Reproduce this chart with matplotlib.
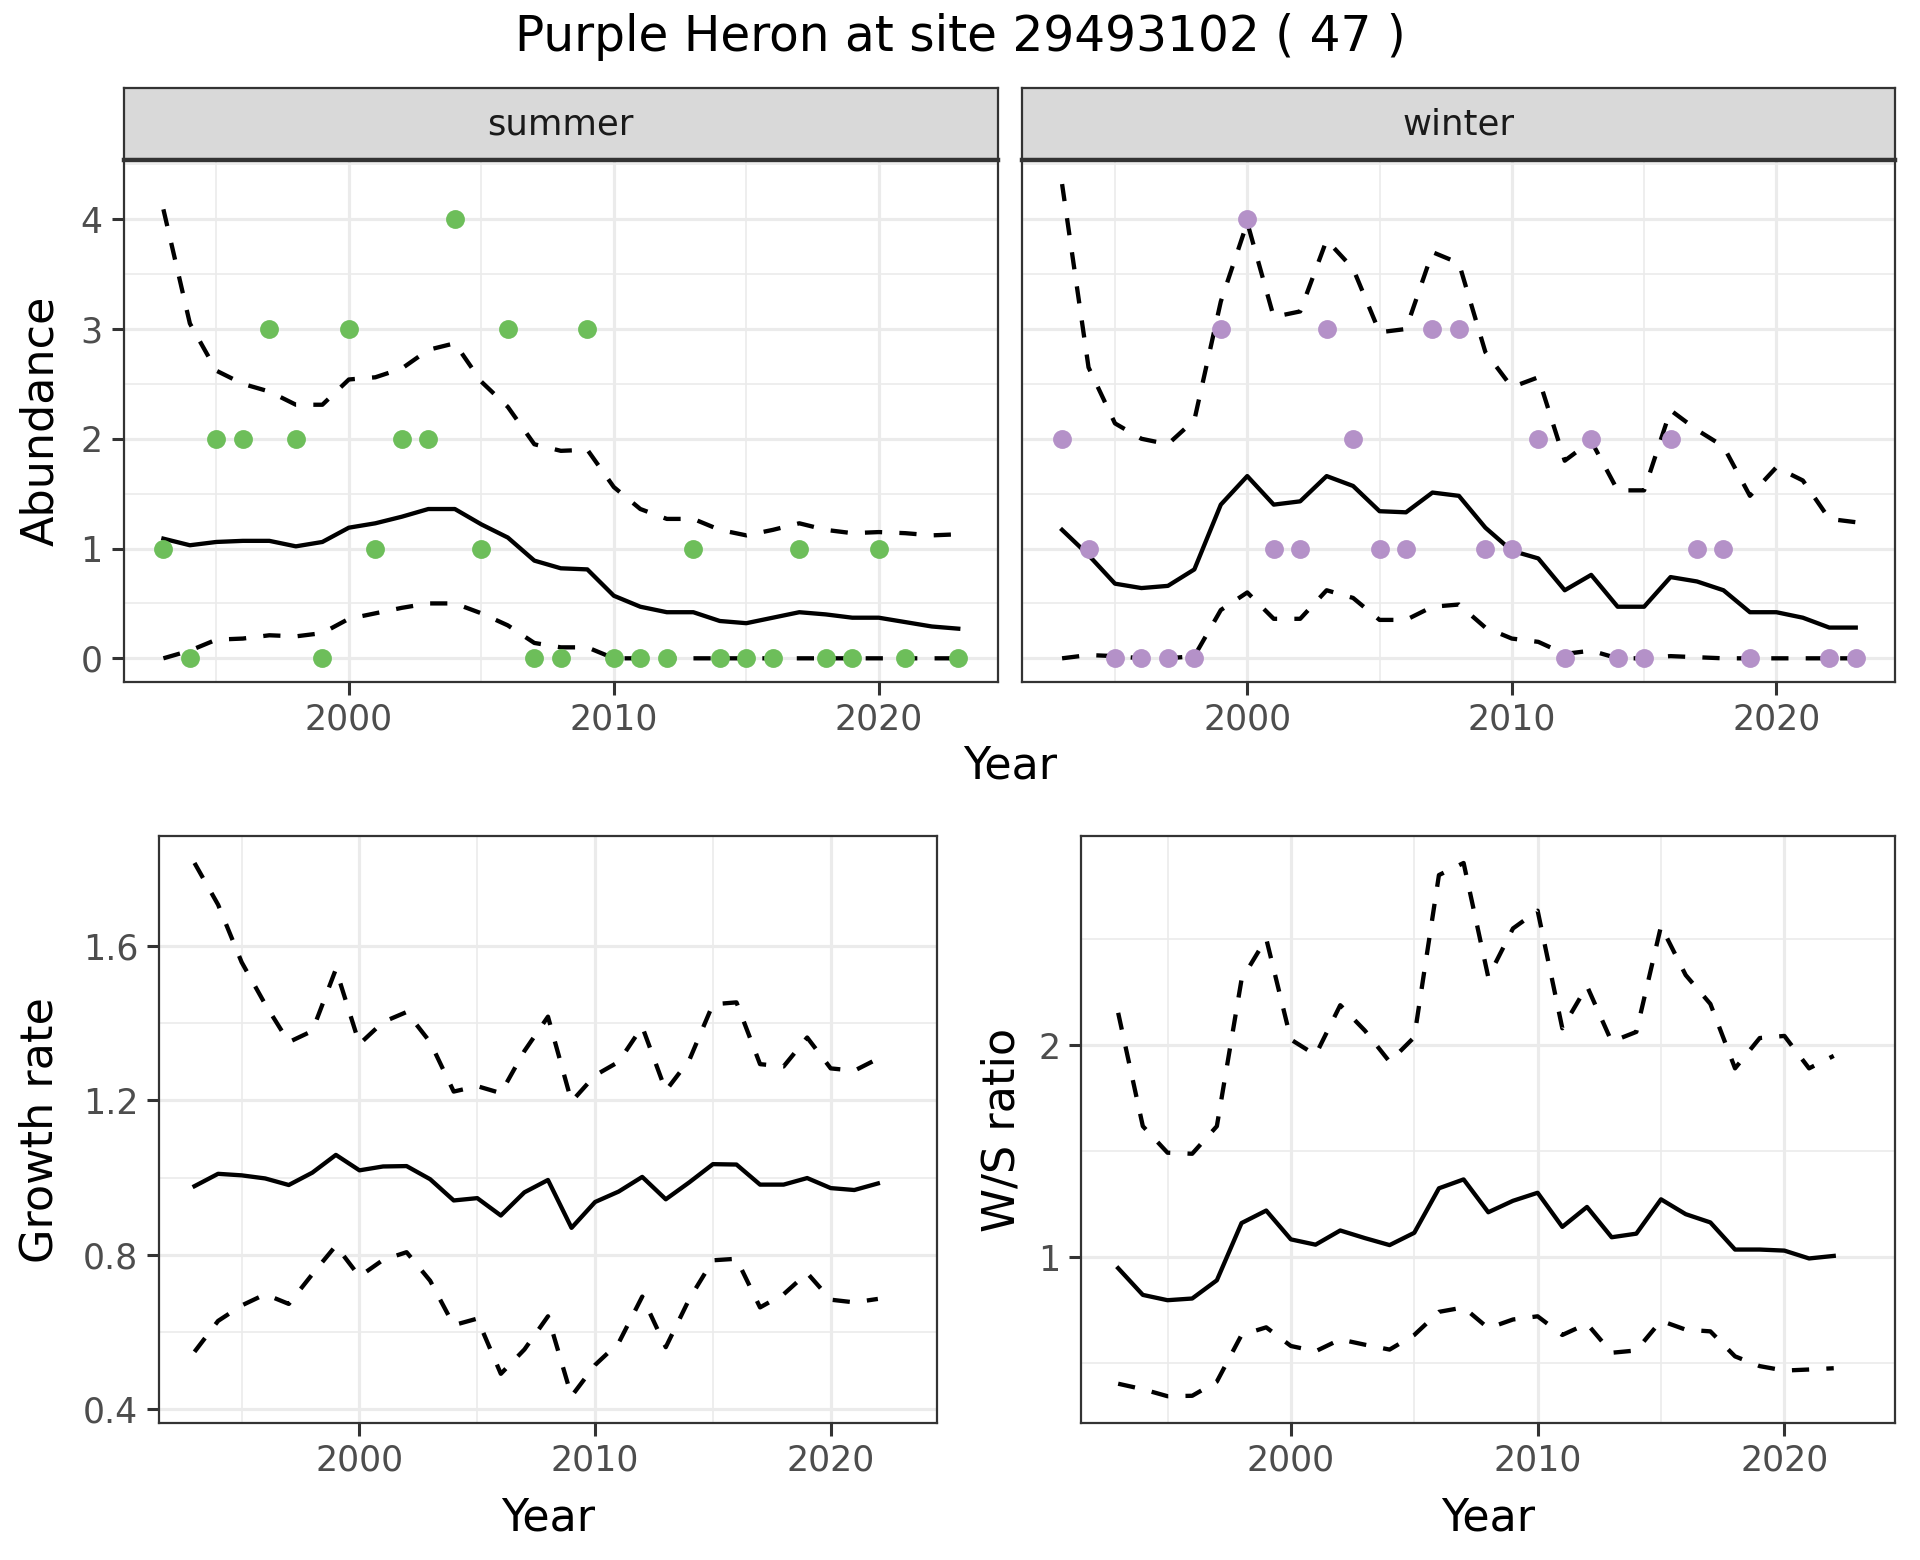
import numpy as np
import matplotlib
matplotlib.use("Agg")
import matplotlib.pyplot as plt

# Datos
years = list(range(1993, 2024))

summer_obs = [1, 0, 2, 2, 3, 2, 0, 3, 1, 2, 2, 4, 1, 3, 0, 0, 3, 0, 0, 0,
              1, 0, 0, 0, 1, 0, 0, 1, 0, None, 0]
summer_mean = [1.09, 1.03, 1.06, 1.07, 1.07, 1.02, 1.06, 1.19, 1.23, 1.29, 1.36,
               1.36, 1.22, 1.10, 0.89, 0.82, 0.81, 0.57, 0.47, 0.42, 0.42, 0.34,
               0.32, 0.37, 0.42, 0.40, 0.37, 0.37, 0.33, 0.29, 0.27]
summer_upper = [4.09, 3.05, 2.62, 2.50, 2.43, 2.31, 2.31, 2.54, 2.56, 2.64, 2.81,
                2.87, 2.52, 2.29, 1.95, 1.89, 1.90, 1.56, 1.36, 1.27, 1.27, 1.17,
                1.12, 1.17, 1.23, 1.17, 1.14, 1.15, 1.14, 1.12, 1.13]
summer_lower = [0.00, 0.07, 0.17, 0.18, 0.21, 0.20, 0.23, 0.36, 0.41, 0.46, 0.50,
                0.50, 0.41, 0.30, 0.14, 0.10, 0.10, 0.00, 0.00, 0.00, 0.00, 0.00,
                0.00, 0.00, 0.00, 0.00, 0.00, 0.00, 0.00, 0.00, 0.00]

winter_obs = [2, 1, 0, 0, 0, 0, 3, 4, 1, 1, 3, 2, 1, 1, 3, 3, 1, 1, 2, 0,
              2, 0, 0, 2, 1, 1, 0, None, None, 0, 0]
winter_mean = [1.17, 0.94, 0.68, 0.64, 0.66, 0.81, 1.40, 1.66, 1.40, 1.43, 1.66,
               1.57, 1.34, 1.33, 1.51, 1.48, 1.19, 0.98, 0.91, 0.62, 0.76, 0.47,
               0.47, 0.74, 0.70, 0.62, 0.42, 0.42, 0.37, 0.28, 0.28]
winter_upper = [4.32, 2.65, 2.14, 2.00, 1.95, 2.17, 3.25, 3.97, 3.11, 3.16, 3.81,
                3.55, 2.97, 3.00, 3.70, 3.60, 2.79, 2.47, 2.56, 1.80, 1.98, 1.53,
                1.53, 2.26, 2.08, 1.93, 1.48, 1.74, 1.62, 1.27, 1.24]
winter_lower = [0.00, 0.03, 0.02, 0.00, 0.00, 0.02, 0.44, 0.60, 0.36, 0.36, 0.62,
                0.55, 0.35, 0.35, 0.47, 0.49, 0.28, 0.18, 0.15, 0.04, 0.07, 0.00,
                0.00, 0.02, 0.01, 0.00, 0.00, 0.00, 0.00, 0.00, 0.00]

years_rate = list(range(1993, 2023))
growth_mean = [0.978, 1.010, 1.006, 0.998, 0.981, 1.013, 1.059, 1.019, 1.029, 1.030,
               0.996, 0.941, 0.947, 0.902, 0.962, 0.994, 0.870, 0.937, 0.964, 1.002,
               0.944, 0.988, 1.035, 1.034, 0.982, 0.982, 0.999, 0.973, 0.968, 0.985]
growth_upper = [1.815, 1.707, 1.558, 1.449, 1.351, 1.380, 1.540, 1.346, 1.403, 1.429,
                1.351, 1.223, 1.237, 1.219, 1.328, 1.417, 1.197, 1.265, 1.300, 1.391,
                1.225, 1.305, 1.449, 1.454, 1.294, 1.288, 1.363, 1.283, 1.277, 1.308]
growth_lower = [0.549, 0.629, 0.669, 0.698, 0.673, 0.750, 0.824, 0.744, 0.787, 0.807,
                0.733, 0.618, 0.635, 0.492, 0.555, 0.641, 0.434, 0.515, 0.572, 0.692,
                0.561, 0.686, 0.786, 0.790, 0.664, 0.698, 0.753, 0.684, 0.677, 0.686]

ws_mean = [0.948, 0.822, 0.797, 0.805, 0.891, 1.161, 1.220, 1.084, 1.059, 1.126,
           1.090, 1.057, 1.115, 1.325, 1.367, 1.212, 1.266, 1.304, 1.143, 1.237,
           1.094, 1.111, 1.273, 1.203, 1.164, 1.036, 1.036, 1.031, 0.994, 1.006]
ws_upper = [2.153, 1.618, 1.493, 1.488, 1.618, 2.310, 2.503, 2.027, 1.954, 2.189,
            2.069, 1.922, 2.038, 2.803, 2.860, 2.321, 2.551, 2.635, 2.080, 2.279,
            2.017, 2.063, 2.562, 2.331, 2.195, 1.891, 2.034, 2.044, 1.891, 1.950]
ws_lower = [0.403, 0.377, 0.344, 0.346, 0.413, 0.633, 0.669, 0.581, 0.556, 0.612,
            0.587, 0.564, 0.633, 0.742, 0.763, 0.665, 0.706, 0.721, 0.633, 0.686,
            0.549, 0.560, 0.700, 0.658, 0.650, 0.532, 0.486, 0.465, 0.470, 0.476]

green = "#6DBE5A"
purple = "#B491C8"
grid_col = "#EBEBEB"
dark = "#333333"

fig = plt.figure(figsize=(9.6, 7.8), dpi=200)


def style_axes(ax, ymaj, ymin, show_y=True):
    ax.set_xlim(1991.5, 2024.5)
    ax.set_xticks([2000, 2010, 2020])
    ax.set_xticks([1995, 2005, 2015], minor=True)
    ax.set_yticks(ymaj)
    ax.set_yticks(ymin, minor=True)
    ax.grid(True, which="major", color=grid_col, linewidth=1.15)
    ax.grid(True, which="minor", color=grid_col, linewidth=0.6)
    ax.set_axisbelow(True)
    for s in ax.spines.values():
        s.set_color(dark)
        s.set_linewidth(0.8)
    ax.tick_params(which="major", length=4.5, width=1.1, color=dark,
                   labelsize=12.5, labelcolor="#4D4D4D", pad=3)
    ax.tick_params(which="minor", length=0)
    if not show_y:
        ax.tick_params(axis="y", which="both", length=0, labelleft=False)


def band(ax, x, mid, lo, hi):
    ax.plot(x, mid, color="black", linewidth=1.55)
    ax.plot(x, hi, color="black", linewidth=1.55, linestyle=(0, (4, 4)))
    ax.plot(x, lo, color="black", linewidth=1.55, linestyle=(0, (4, 4)))


# limites compartidos de las facetas
ab_all = summer_upper + winter_upper + summer_lower + winter_lower
ab_lo, ab_hi = min(ab_all), max(ab_all)
ab_pad = (ab_hi - ab_lo) * 0.05

panels = [("summer", 0.0644, 0.4554, summer_obs, summer_mean, summer_lower, summer_upper, green),
          ("winter", 0.5325, 0.4547, winter_obs, winter_mean, winter_lower, winter_upper, purple)]

for i, (name, left, width, obs, mid, lo, hi, col) in enumerate(panels):
    ax = fig.add_axes([left, 0.5628, width, 0.3344])
    band(ax, years, mid, lo, hi)
    px = [y for y, v in zip(years, obs) if v is not None]
    py = [v for v in obs if v is not None]
    ax.scatter(px, py, s=46, color=col, zorder=3, linewidths=0)
    ax.set_ylim(ab_lo - ab_pad, ab_hi + ab_pad)
    style_axes(ax, [0, 1, 2, 3, 4], [0.5, 1.5, 2.5, 3.5, 4.5], show_y=(i == 0))
    if i == 0:
        ax.set_ylabel("Abundance", fontsize=16)
        ax.yaxis.set_label_coords(-0.07, 0.5)
    # tira de la faceta
    st = fig.add_axes([left, 0.8972, width, 0.0463])
    st.set_facecolor("#D9D9D9")
    st.set_xticks([])
    st.set_yticks([])
    for s in st.spines.values():
        s.set_color(dark)
        s.set_linewidth(0.8)
    st.spines["bottom"].set_linewidth(1.6)
    st.text(0.5, 0.5, name, transform=st.transAxes, ha="center", va="center",
            fontsize=12.8, color="#1A1A1A")

fig.text(0.526, 0.509, "Year", ha="center", va="center", fontsize=16)

# Tasa de crecimiento
ax = fig.add_axes([0.0829, 0.0879, 0.4050, 0.3760])
band(ax, years_rate, growth_mean, growth_lower, growth_upper)
g_lo, g_hi = min(growth_lower), max(growth_upper)
g_pad = (g_hi - g_lo) * 0.05
ax.set_ylim(g_lo - g_pad, g_hi + g_pad)
style_axes(ax, [0.4, 0.8, 1.2, 1.6], [0.6, 1.0, 1.4])
ax.set_yticklabels(["0.4", "0.8", "1.2", "1.6"])
ax.set_ylabel("Growth rate", fontsize=16)
ax.yaxis.set_label_coords(-0.125, 0.5)
ax.set_xlabel("Year", fontsize=16)
ax.xaxis.set_label_coords(0.5, -0.125)

# Razon invierno / verano
ax = fig.add_axes([0.5631, 0.0879, 0.4241, 0.3760])
band(ax, years_rate, ws_mean, ws_lower, ws_upper)
w_lo, w_hi = min(ws_lower), max(ws_upper)
w_pad = (w_hi - w_lo) * 0.05
ax.set_ylim(w_lo - w_pad, w_hi + w_pad)
style_axes(ax, [1, 2], [0.5, 1.5, 2.5])
ax.set_ylabel("W/S ratio", fontsize=16)
ax.yaxis.set_label_coords(-0.071, 0.5)
ax.set_xlabel("Year", fontsize=16)
ax.xaxis.set_label_coords(0.5, -0.125)

fig.text(0.5, 0.976, "Purple Heron at site 29493102 ( 47 )", ha="center",
         va="center", fontsize=17.5)

fig.savefig("out.png", dpi=200)
